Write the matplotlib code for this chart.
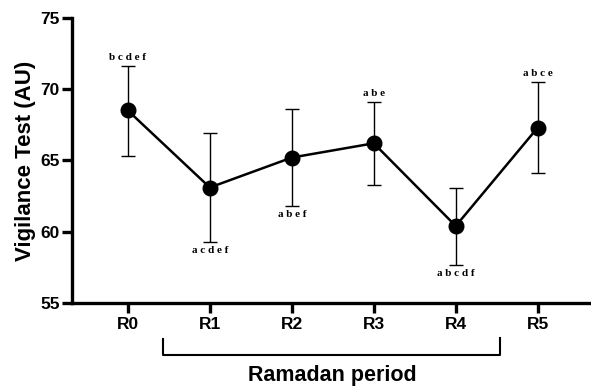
import matplotlib.pyplot as plt
import matplotlib.transforms as mtransforms

plt.rcParams['font.family'] = ['Liberation Sans', 'DejaVu Sans']

# data
periods = ['R0', 'R1', 'R2', 'R3', 'R4', 'R5']
mean = [68.5, 63.1, 65.2, 66.2, 60.4, 67.3]
err_low = [3.2, 3.8, 3.4, 2.9, 2.7, 3.2]
err_high = [3.1, 3.8, 3.4, 2.9, 2.7, 3.2]
letters = ['b c d e f', 'a c d e f', 'a b e f', 'a b e', 'a b c d f', 'a b c e']
letter_above = [True, False, False, True, False, True]

fig = plt.figure(figsize=(5.91, 3.87), dpi=100)
ax = fig.add_axes([0.122, 0.217, 0.878, 0.737])

x = list(range(len(periods)))
ax.errorbar(x, mean, yerr=[err_low, err_high], fmt='none', ecolor='black',
            elinewidth=1.0, capsize=5, capthick=1.0, zorder=2)
ax.plot(x, mean, color='black', lw=1.8, marker='o', markersize=10.5, zorder=3)

for i in x:
    if letter_above[i]:
        ax.text(i, mean[i] + err_high[i] + 0.3, letters[i], ha='center', va='bottom',
                fontsize=8, fontweight='bold', family='Liberation Serif')
    else:
        ax.text(i, mean[i] - err_low[i] - 0.3, letters[i], ha='center', va='top',
                fontsize=8, fontweight='bold', family='Liberation Serif')

ax.set_xlim(-0.68, 5.65)
ax.set_ylim(55, 75)
ax.set_yticks([55, 60, 65, 70, 75])
ax.set_xticks(x)
ax.set_xticklabels(periods)

for s in ['top', 'right']:
    ax.spines[s].set_visible(False)
for s in ['left', 'bottom']:
    ax.spines[s].set_linewidth(2.4)
ax.tick_params(width=2.4, length=7, labelsize=12.5, pad=2)
ax.tick_params(axis='x', pad=3)
for lab in ax.get_xticklabels() + ax.get_yticklabels():
    lab.set_fontweight('bold')

ax.set_ylabel('Vigilance Test (AU)', fontsize=16, fontweight='bold', labelpad=3)

# bracket under R1-R4
trans = mtransforms.blended_transform_factory(ax.transData, ax.transAxes)
ax.plot([0.43, 0.43, 4.54, 4.54], [-0.125, -0.182, -0.182, -0.123], color='black',
        lw=1.5, transform=trans, clip_on=False)
ax.text(2.49, -0.255, 'Ramadan period', transform=trans, ha='center', va='center',
        fontsize=15.5, fontweight='bold')

fig.savefig('out.png', dpi=100)
